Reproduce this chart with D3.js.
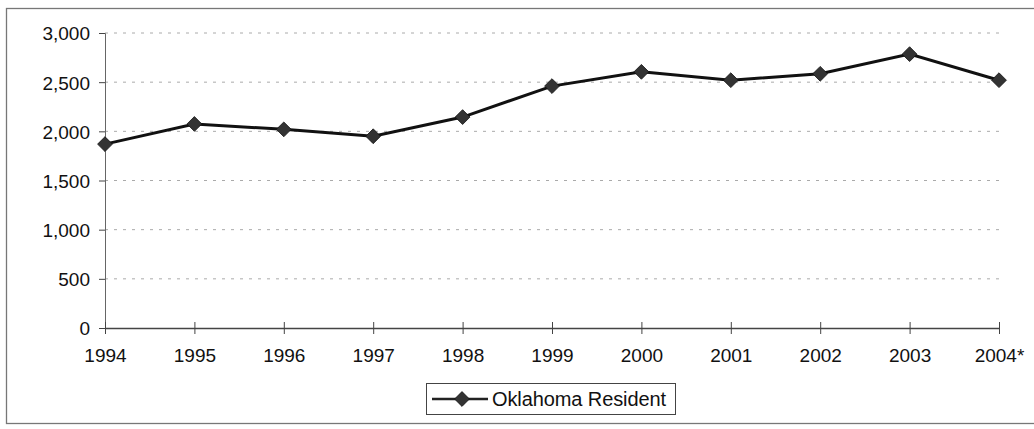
<!DOCTYPE html>
<html>
<head>
<meta charset="utf-8">
<script src="https://cdn.jsdelivr.net/npm/d3@7"></script>
<style>
  body { margin: 0; background: #fff; }
  text { font-family: "Liberation Sans", Arial, sans-serif; fill: #111; }
</style>
</head>
<body>
<div id="wrapper"></div>
<script>
// data
const years = ["1994", "1995", "1996", "1997", "1998", "1999", "2000", "2001", "2002", "2003", "2004*"];
const residents = [1870, 2075, 2020, 1950, 2145, 2460, 2605, 2520, 2585, 2785, 2520];
const yTicks = [0, 500, 1000, 1500, 2000, 2500, 3000];
const seriesName = "Oklahoma Resident";

let dimensions = {
  width: 1034,
  height: 429,
  margin: { top: 33, right: 35, bottom: 101, left: 105 }
};
dimensions.boundedWidth = dimensions.width - dimensions.margin.left - dimensions.margin.right;
dimensions.boundedHeight = dimensions.height - dimensions.margin.top - dimensions.margin.bottom;

const svg = d3.select("#wrapper").append("svg")
  .attr("width", dimensions.width)
  .attr("height", dimensions.height);

// outer frame (right edge runs off the scan)
svg.append("rect")
  .attr("x", 6.5).attr("y", 8.5)
  .attr("width", 1040).attr("height", 415)
  .attr("fill", "none")
  .attr("stroke", "#777")
  .attr("stroke-width", 1.3);

const bounds = svg.append("g")
  .attr("transform", `translate(${dimensions.margin.left},${dimensions.margin.top})`);

const xScale = d3.scalePoint()
  .domain(years)
  .range([0, dimensions.boundedWidth]);

const yScale = d3.scaleLinear()
  .domain([0, 3000])
  .range([dimensions.boundedHeight, 0]);

// gridlines
bounds.append("g").selectAll("line")
  .data(yTicks.filter(d => d > 0))
  .enter().append("line")
  .attr("x1", 0).attr("x2", dimensions.boundedWidth)
  .attr("y1", d => yScale(d)).attr("y2", d => yScale(d))
  .attr("stroke", "#aaa")
  .attr("stroke-width", 1)
  .attr("stroke-dasharray", "3,6");

// y axis
const yAxisGen = d3.axisLeft(yScale)
  .tickValues(yTicks)
  .tickFormat(d3.format(","))
  .tickSize(6)
  .tickPadding(9);
const yAxis = bounds.append("g").call(yAxisGen);
yAxis.select(".domain").attr("stroke", "#666");
yAxis.selectAll(".tick line").attr("stroke", "#444");
yAxis.selectAll("text").style("font-size", "19px").attr("dy", "0.36em");

// x axis, ticks cross the line
const xAxisGen = d3.axisBottom(xScale)
  .tickSizeInner(6)
  .tickSizeOuter(0)
  .tickPadding(15);
const xAxis = bounds.append("g")
  .attr("transform", `translate(0,${dimensions.boundedHeight})`)
  .call(xAxisGen);
xAxis.select(".domain").attr("stroke", "#444").attr("stroke-width", 1.3);
xAxis.selectAll(".tick line").attr("y1", -6).attr("stroke", "#444");
xAxis.selectAll("text").style("font-size", "19px");

// series line
const lineGen = d3.line()
  .x((d, i) => xScale(years[i]))
  .y(d => yScale(d));

bounds.append("path")
  .datum(residents)
  .attr("d", lineGen)
  .attr("fill", "none")
  .attr("stroke", "#111")
  .attr("stroke-width", 3);

const diamond = d3.symbol().type(d3.symbolDiamond2).size(140);

bounds.append("g").selectAll("path")
  .data(residents)
  .enter().append("path")
  .attr("d", diamond)
  .attr("transform", (d, i) => `translate(${xScale(years[i])},${yScale(d)})`)
  .attr("fill", "#333")
  .attr("stroke", "#111")
  .attr("stroke-width", 0.8);

// legend
const legend = svg.append("g").attr("transform", "translate(426,383)");
legend.append("rect")
  .attr("x", 0.5).attr("y", 0.5)
  .attr("width", 249).attr("height", 31)
  .attr("fill", "#fff")
  .attr("stroke", "#444")
  .attr("stroke-width", 1);
legend.append("line")
  .attr("x1", 6).attr("x2", 62)
  .attr("y1", 16).attr("y2", 16)
  .attr("stroke", "#222")
  .attr("stroke-width", 2.4);
legend.append("path")
  .attr("d", diamond)
  .attr("transform", "translate(36,16)")
  .attr("fill", "#333")
  .attr("stroke", "#111")
  .attr("stroke-width", 0.8);
legend.append("text")
  .attr("x", 66).attr("y", 16)
  .attr("dy", "0.36em")
  .attr("textLength", 174)
  .style("font-size", "20px")
  .text(seriesName);
</script>
</body>
</html>
